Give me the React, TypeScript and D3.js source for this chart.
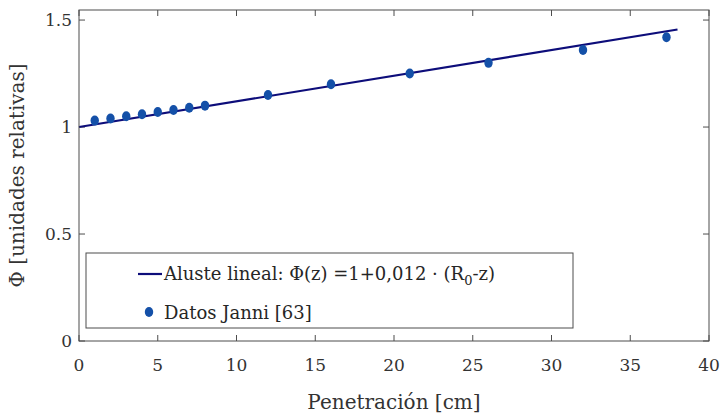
import { useEffect, useRef } from "react";
import * as d3 from "d3";

// Datos Janni [63]
const penetration = [1, 2, 3, 4, 5, 6, 7, 8, 12, 16, 21, 26, 32, 37.3];
const phiValues = [1.03, 1.04, 1.05, 1.06, 1.07, 1.08, 1.09, 1.1, 1.15, 1.2, 1.25, 1.3, 1.36, 1.42];
// ajuste lineal
const fitZ = [0, 38];
const fitSlope = 0.012;
const xTicks = [0, 5, 10, 15, 20, 25, 30, 35, 40];
const yTicks = [0, 0.5, 1, 1.5];
const yTickLabels = ["0", "0.5", "1", "1.5"];

const W = 720;
const H = 419;
const FONT = "DejaVu Serif";

const App = () => {
  const svgRef = useRef<SVGSVGElement>(null);

  useEffect(() => {
    const svg = d3.select(svgRef.current);
    svg.selectAll("*").remove();

    const left = 79, right = 709, top = 10, bottom = 341;
    const x = d3.scaleLinear().domain([0, 40]).range([left, right]);
    const y = d3.scaleLinear().domain([0, 1.547]).range([bottom, top]);

    svg.append("rect").attr("width", W).attr("height", H).attr("fill", "white");

    // ticks hacia dentro en los cuatro lados
    const tk = svg.append("g").attr("stroke", "#4d4d4d").attr("stroke-width", 1);
    xTicks.forEach((t) => {
      tk.append("line").attr("x1", x(t)).attr("x2", x(t)).attr("y1", bottom).attr("y2", bottom - 6);
      tk.append("line").attr("x1", x(t)).attr("x2", x(t)).attr("y1", top).attr("y2", top + 6);
    });
    yTicks.forEach((t) => {
      tk.append("line").attr("x1", left).attr("x2", left + 6).attr("y1", y(t)).attr("y2", y(t));
      tk.append("line").attr("x1", right).attr("x2", right - 6).attr("y1", y(t)).attr("y2", y(t));
    });

    const line = d3.line<number>().x((z) => x(z)).y((z) => y(1 + fitSlope * z));
    svg.append("path")
      .datum(fitZ)
      .attr("d", line)
      .attr("fill", "none")
      .attr("stroke", "#0d0d7a")
      .attr("stroke-width", 2.2);

    svg.append("g")
      .selectAll("ellipse")
      .data(penetration)
      .enter()
      .append("ellipse")
      .attr("cx", (d) => x(d))
      .attr("cy", (d, i) => y(phiValues[i]))
      .attr("rx", 4.2)
      .attr("ry", 5)
      .attr("fill", "#1450a8");

    svg.append("rect")
      .attr("x", left).attr("y", top)
      .attr("width", right - left).attr("height", bottom - top)
      .attr("fill", "none").attr("stroke", "#4d4d4d").attr("stroke-width", 1);

    svg.append("g")
      .selectAll("text")
      .data(xTicks)
      .enter()
      .append("text")
      .attr("x", (d) => x(d))
      .attr("y", 371)
      .attr("text-anchor", "middle")
      .attr("font-family", FONT)
      .attr("font-size", 17)
      .attr("fill", "#333")
      .text((d) => d);

    svg.append("g")
      .selectAll("text")
      .data(yTicks)
      .enter()
      .append("text")
      .attr("x", 72)
      .attr("y", (d) => y(d) + 6)
      .attr("text-anchor", "end")
      .attr("font-family", FONT)
      .attr("font-size", 17)
      .attr("fill", "#333")
      .text((d, i) => yTickLabels[i]);

    svg.append("text")
      .attr("x", x(20))
      .attr("y", 409)
      .attr("text-anchor", "middle")
      .attr("font-family", FONT)
      .attr("font-size", 20)
      .attr("fill", "#333")
      .text("Penetración [cm]");

    svg.append("text")
      .attr("transform", `translate(24, ${(top + bottom) / 2}) rotate(-90)`)
      .attr("text-anchor", "middle")
      .attr("font-family", FONT)
      .attr("font-size", 20)
      .attr("fill", "#333")
      .text("Φ [unidades relativas]");

    // leyenda
    const lg = svg.append("g");
    lg.append("rect")
      .attr("x", 86).attr("y", 253).attr("width", 487).attr("height", 75)
      .attr("fill", "white").attr("stroke", "#4d4d4d").attr("stroke-width", 1);
    lg.append("line")
      .attr("x1", 138).attr("x2", 162).attr("y1", 274).attr("y2", 274)
      .attr("stroke", "#0d0d7a").attr("stroke-width", 2.2);
    const t1 = lg.append("text")
      .attr("x", 164).attr("y", 280)
      .attr("font-family", FONT).attr("font-size", 18).attr("fill", "#262626");
    t1.append("tspan").text("Aluste lineal: Φ(z) =1+0,012 · (R");
    t1.append("tspan").attr("font-size", 13).attr("dy", 5).text("0");
    t1.append("tspan").attr("dy", -5).text("-z)");
    lg.append("ellipse")
      .attr("cx", 149).attr("cy", 312).attr("rx", 4.2).attr("ry", 5).attr("fill", "#1450a8");
    lg.append("text")
      .attr("x", 164).attr("y", 319)
      .attr("font-family", FONT).attr("font-size", 18).attr("fill", "#262626")
      .text("Datos Janni [63]");
  }, []);

  return (
    <svg
      ref={svgRef}
      width={W}
      height={H}
      style={{ position: "absolute", left: 0, top: 0 }}
    />
  );
};

export default App;
